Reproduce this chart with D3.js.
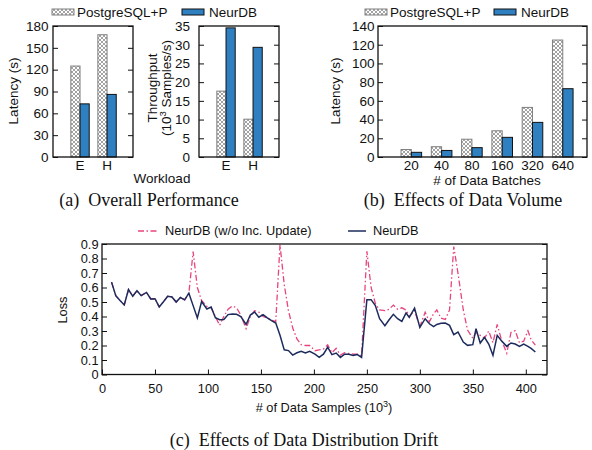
<!DOCTYPE html>
<html>
<head>
<meta charset="utf-8">
<script src="https://cdn.jsdelivr.net/npm/d3@7"></script>
<style>
body{margin:0;background:#fff;}
text{font-family:"Liberation Sans",Arial,sans-serif;fill:#111;}
.cap{font-family:"Liberation Serif","Times New Roman",serif;font-size:18px;}
.tick line{stroke:#111;}
</style>
</head>
<body>
<svg id="fig" width="592" height="450"></svg>
<script>
// (a) overall performance
var workloads = ["E","H"];
var latPg = [125,168];
var latNeur = [73,86];
var thrPg = [17.6,10.1];
var thrNeur = [34.5,29.3];
// (b) data volume
var batches = ["20","40","80","160","320","640"];
var volPg = [8,11,19,28,53,125];
var volNeur = [5,7,10,21,37,73];
// (c) drift, x in 10^3 samples
var samples = [9,13,17,21,25,29,33,37,42,46,
  50,54,58,62,66,70,74,78,82,86,
  90,94,99,103,107,111,115,119,123,127,
  131,136,140,144,148,152,156,160,164,168,
  172,176,180,184,188,192,196,201,205,209,
  213,217,221,225,229,233,237,241,245,250,
  254,258,262,267,271,275,279,283,287,290,
  295,300,305,309,313,316,320,324,328,332,
  336,341,345,350,353,357,361,365,369,373,
  377,382,386,390,394,398,402,405,409];
var lossNeur = [0.637,0.544,0.51,0.48,0.586,0.54,0.578,0.544,0.566,0.521,
  0.523,0.466,0.502,0.54,0.535,0.5,0.531,0.515,0.561,0.475,
  0.39,0.503,0.452,0.465,0.391,0.378,0.38,0.413,0.417,0.415,
  0.40,0.345,0.41,0.431,0.395,0.413,0.39,0.371,0.355,0.27,
  0.17,0.165,0.134,0.15,0.16,0.148,0.16,0.14,0.118,0.14,
  0.188,0.137,0.148,0.118,0.14,0.14,0.132,0.137,0.118,0.516,
  0.516,0.475,0.385,0.337,0.378,0.415,0.385,0.366,0.424,0.394,
  0.458,0.325,0.385,0.35,0.33,0.345,0.353,0.355,0.339,0.275,
  0.293,0.224,0.201,0.206,0.316,0.217,0.257,0.21,0.132,0.27,
  0.233,0.194,0.217,0.21,0.194,0.21,0.194,0.18,0.155];
var lossNoInc = [0.637,0.544,0.51,0.48,0.586,0.54,0.578,0.544,0.566,0.521,
  0.523,0.466,0.502,0.54,0.535,0.5,0.531,0.515,0.561,0.847,
  0.60,0.51,0.47,0.46,0.40,0.339,0.40,0.45,0.472,0.46,
  0.41,0.316,0.40,0.44,0.43,0.40,0.39,0.375,0.364,0.895,
  0.62,0.44,0.32,0.245,0.205,0.20,0.20,0.164,0.17,0.175,
  0.205,0.15,0.18,0.134,0.15,0.145,0.14,0.14,0.13,0.85,
  0.60,0.49,0.445,0.44,0.45,0.479,0.45,0.46,0.445,0.40,
  0.44,0.33,0.43,0.364,0.42,0.445,0.388,0.38,0.445,0.882,
  0.698,0.445,0.307,0.25,0.29,0.27,0.25,0.30,0.22,0.345,
  0.24,0.147,0.29,0.302,0.219,0.23,0.302,0.24,0.203];

var blue = "#2f80c0";
var pink = "#e8447e";
var navy = "#1c2b5c";

var svg = d3.select("#fig");

// crosshatch for PostgreSQL+P
var pat = svg.append("defs").append("pattern")
  .attr("id","hatch")
  .attr("patternUnits","userSpaceOnUse")
  .attr("width",4).attr("height",4);
pat.append("rect").attr("width",4).attr("height",4).attr("fill","#fff");
pat.append("path").attr("d","M0,0L4,4M4,0L0,4")
  .attr("stroke","#8c8c8c").attr("stroke-width",0.8);

function barPanel(box, cats, pg, neur, yMax, yStep, xDom, pad){
  var x = d3.scaleLinear().domain(xDom).range([box.l, box.r]);
  var y = d3.scaleLinear().domain([0, yMax]).range([box.b, box.t]);
  var bw = (x(1) - x(0)) * 0.34;
  var g = svg.append("g");

  g.append("g").attr("transform","translate(" + box.l + ",0)")
    .call(d3.axisLeft(y).tickValues(d3.range(0, yMax + 0.001, yStep)).tickSize(-5).tickPadding(pad))
    .call(function(a){ a.select(".domain").remove(); a.selectAll("text").style("font-size","13.5px"); });
  g.append("g").attr("transform","translate(" + box.r + ",0)")
    .call(d3.axisRight(y).tickValues(d3.range(0, yMax + 0.001, yStep)).tickSize(-5).tickFormat(""))
    .call(function(a){ a.select(".domain").remove(); });

  g.selectAll(".pg").data(pg).enter().append("rect")
    .attr("x", function(d,i){ return x(i) - bw; })
    .attr("y", function(d){ return y(d); })
    .attr("width", bw)
    .attr("height", function(d){ return box.b - y(d); })
    .attr("fill","url(#hatch)")
    .attr("stroke","#808080").attr("stroke-width",1);
  g.selectAll(".nd").data(neur).enter().append("rect")
    .attr("x", function(d,i){ return x(i); })
    .attr("y", function(d){ return y(d); })
    .attr("width", bw)
    .attr("height", function(d){ return box.b - y(d); })
    .attr("fill", blue)
    .attr("stroke","#111").attr("stroke-width",1);

  g.selectAll(".cat").data(cats).enter().append("text")
    .attr("x", function(d,i){ return x(i); })
    .attr("y", 170)
    .attr("text-anchor","middle")
    .style("font-size","13.5px")
    .text(function(d){ return d; });

  g.append("rect").attr("x",box.l).attr("y",box.t)
    .attr("width",box.r - box.l).attr("height",box.b - box.t)
    .attr("fill","none").attr("stroke","#111").attr("stroke-width",1.3);
}

function barLegend(x1, x2){
  svg.append("rect").attr("x",x1).attr("y",9).attr("width",22).attr("height",6)
    .attr("fill","url(#hatch)").attr("stroke","#808080");
  svg.append("text").attr("x",x1 + 25).attr("y",17).style("font-size","13.5px").text("PostgreSQL+P");
  svg.append("rect").attr("x",x2).attr("y",9).attr("width",22).attr("height",6)
    .attr("fill",blue).attr("stroke","#111");
  svg.append("text").attr("x",x2 + 27).attr("y",17).style("font-size","13.5px").text("NeurDB");
}

function vLabel(x, y, txt, size){
  return svg.append("text")
    .attr("transform","translate(" + x + "," + y + ") rotate(-90)")
    .attr("text-anchor","middle")
    .style("font-size", size)
    .text(txt);
}

barPanel({l:53,r:133,t:26,b:157}, workloads, latPg, latNeur, 180, 30, [-1, 1.96], 4.5);
barPanel({l:199,r:279,t:26,b:157}, workloads, thrPg, thrNeur, 35, 5, [-1, 1.96], 9);
barPanel({l:378,r:587,t:26,b:157}, batches, volPg, volNeur, 140, 20, [-1.1, 5.8], 3.5);

barLegend(52, 182);
barLegend(365, 494);

vLabel(18, 91, "Latency (s)", "13.5px");
vLabel(157, 88, "Throughput", "13.5px");
var t2 = vLabel(171, 88, "", "13.5px");
t2.append("tspan").text("(10");
t2.append("tspan").attr("dy",-5).style("font-size","9.5px").text("3");
t2.append("tspan").attr("dy",5).text(" Samples/s)");
vLabel(340, 91, "Latency (s)", "13.5px");

svg.append("text").attr("x",162).attr("y",183).attr("text-anchor","middle")
  .style("font-size","13.5px").text("Workload");
svg.append("text").attr("x",487).attr("y",185).attr("text-anchor","middle")
  .style("font-size","13.5px").text("# of Data Batches");

svg.append("text").attr("class","cap").attr("x",149).attr("y",206)
  .attr("text-anchor","middle").text("(a)\u00a0 Overall Performance");
svg.append("text").attr("class","cap").attr("x",463).attr("y",206)
  .attr("text-anchor","middle").text("(b)\u00a0 Effects of Data Volume");

// (c) loss line chart
var lb = {l:102, r:547, t:244, b:374.5};
var lx = d3.scaleLinear().domain([0, 420]).range([lb.l, lb.r]);
var ly = d3.scaleLinear().domain([0, 0.9]).range([lb.b, lb.t]);
var lg = svg.append("g");

lg.append("g").attr("transform","translate(0," + lb.b + ")")
  .call(d3.axisBottom(lx).tickValues(d3.range(0, 401, 50)).tickSize(-5).tickPadding(9))
  .call(function(a){ a.select(".domain").remove(); a.selectAll("text").style("font-size","12.8px"); });
lg.append("g").attr("transform","translate(" + lb.l + ",0)")
  .call(d3.axisLeft(ly).tickValues(d3.range(0, 0.91, 0.1)).tickSize(-5).tickPadding(3.5)
    .tickFormat(function(d){ return d < 0.01 ? "0" : d3.format(".1f")(d); }))
  .call(function(a){ a.select(".domain").remove(); a.selectAll("text").style("font-size","12.8px"); });
lg.append("g").attr("transform","translate(" + lb.r + ",0)")
  .call(d3.axisRight(ly).tickValues(d3.range(0, 0.91, 0.1)).tickSize(-5).tickFormat(""))
  .call(function(a){ a.select(".domain").remove(); });

var line = d3.line()
  .x(function(d){ return lx(d[0]); })
  .y(function(d){ return ly(d[1]); });

lg.append("path")
  .datum(samples.map(function(s,i){ return [s, lossNoInc[i]]; }))
  .attr("d", line)
  .attr("fill","none").attr("stroke",pink).attr("stroke-width",1.3)
  .attr("stroke-dasharray","6,2.5,1.5,2.5");
lg.append("path")
  .datum(samples.map(function(s,i){ return [s, lossNeur[i]]; }))
  .attr("d", line)
  .attr("fill","none").attr("stroke",navy).attr("stroke-width",1.5);

lg.append("rect").attr("x",lb.l).attr("y",lb.t)
  .attr("width",lb.r - lb.l).attr("height",lb.b - lb.t)
  .attr("fill","none").attr("stroke","#111").attr("stroke-width",1.3);

// legend
svg.append("line").attr("x1",138).attr("x2",157).attr("y1",231).attr("y2",231)
  .attr("stroke",pink).attr("stroke-width",1.3).attr("stroke-dasharray","6,2.5,1.5,2.5");
svg.append("text").attr("x",165).attr("y",235).style("font-size","12.8px").text("NeurDB (w/o Inc. Update)");
svg.append("line").attr("x1",348).attr("x2",366).attr("y1",231).attr("y2",231)
  .attr("stroke",navy).attr("stroke-width",1.5);
svg.append("text").attr("x",373).attr("y",235).style("font-size","12.8px").text("NeurDB");

vLabel(67, 310, "Loss", "12.8px");
var xl = svg.append("text").attr("x",324).attr("y",412).attr("text-anchor","middle").style("font-size","12.8px");
xl.append("tspan").text("# of Data Samples (10");
xl.append("tspan").attr("dy",-5).style("font-size","9px").text("3");
xl.append("tspan").attr("dy",5).text(")");

svg.append("text").attr("class","cap").attr("x",304).attr("y",446)
  .attr("text-anchor","middle").text("(c)\u00a0 Effects of Data Distribution Drift");
</script>
</body>
</html>
